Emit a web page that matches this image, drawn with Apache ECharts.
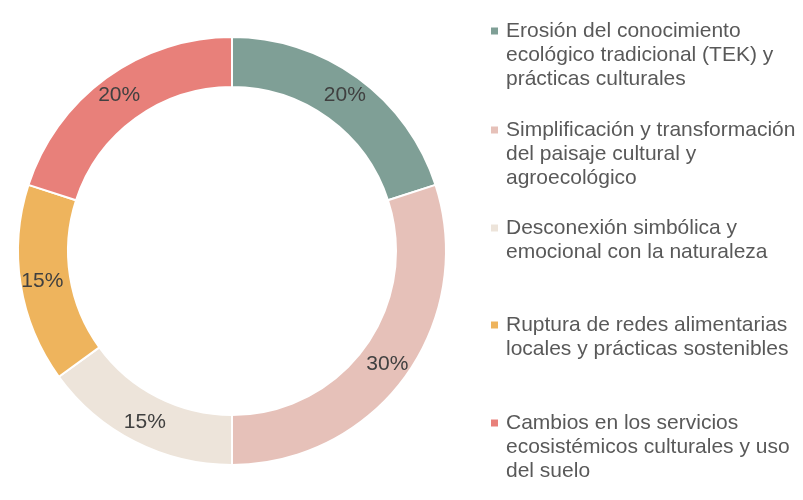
<!DOCTYPE html>
<html>
<head>
<meta charset="utf-8">
<script src="https://cdn.jsdelivr.net/npm/echarts@6/dist/echarts.min.js"></script>
<style>
html,body{margin:0;padding:0;background:#fff;}
#chart{width:803px;height:500px;}
</style>
</head>
<body>
<div id="chart"></div>
<script>
const categories = [
  'Erosión del conocimiento ecológico tradicional (TEK) y prácticas culturales',
  'Simplificación y transformación del paisaje cultural y agroecológico',
  'Desconexión simbólica y emocional con la naturaleza',
  'Ruptura de redes alimentarias locales y prácticas sostenibles',
  'Cambios en los servicios ecosistémicos culturales y uso del suelo'
];
const legendLines = [
  ['Erosión del conocimiento', 'ecológico tradicional (TEK) y', 'prácticas culturales'],
  ['Simplificación y transformación', 'del paisaje cultural y', 'agroecológico'],
  ['Desconexión simbólica y', 'emocional con la naturaleza'],
  ['Ruptura de redes alimentarias', 'locales y prácticas sostenibles'],
  ['Cambios en los servicios', 'ecosistémicos culturales y uso', 'del suelo']
];
const values = [20, 30, 15, 15, 20];
const colors = ['#7F9F96', '#E6C1B9', '#EDE4DA', '#EEB45D', '#E8807A'];
const legendTops = [19, 118, 216, 313, 411];

const FONT = 'Liberation Sans, Arial, sans-serif';
const chart = echarts.init(document.getElementById('chart'));

const rich = {
  s: { width: 7, height: 7 },
  t: { fontSize: 21, lineHeight: 24, color: '#595959', fontFamily: FONT, padding: [0, 0, 0, 8] }
};
colors.forEach((c, i) => { rich['m' + i] = { width: 7, height: 7, backgroundColor: c }; });

const legends = categories.map((name, i) => ({
  orient: 'vertical',
  left: 485,
  top: legendTops[i],
  padding: 0,
  icon: 'none',
  itemWidth: 1,
  itemHeight: 1,
  selectedMode: false,
  data: [name],
  formatter: function () {
    return legendLines[i].map((l, k) => (k === 0 ? '{m' + i + '|}' : '{s|}') + '{t|' + l + '}').join('\n');
  },
  textStyle: { fontSize: 21, lineHeight: 24, color: '#595959', fontFamily: FONT, rich: rich }
}));

chart.setOption({
  animation: false,
  color: colors,
  legend: legends,
  series: [{
    type: 'pie',
    center: [232, 251],
    radius: [164, 214],
    startAngle: 90,
    clockwise: true,
    avoidLabelOverlap: false,
    itemStyle: { borderColor: '#ffffff', borderWidth: 2 },
    label: {
      show: true,
      position: 'inside',
      formatter: '{d}%',
      fontSize: 21,
      color: '#404040',
      fontFamily: FONT
    },
    labelLine: { show: false },
    emphasis: { disabled: true },
    data: categories.map((n, i) => ({ name: n, value: values[i] }))
  }]
});
</script>
</body>
</html>
